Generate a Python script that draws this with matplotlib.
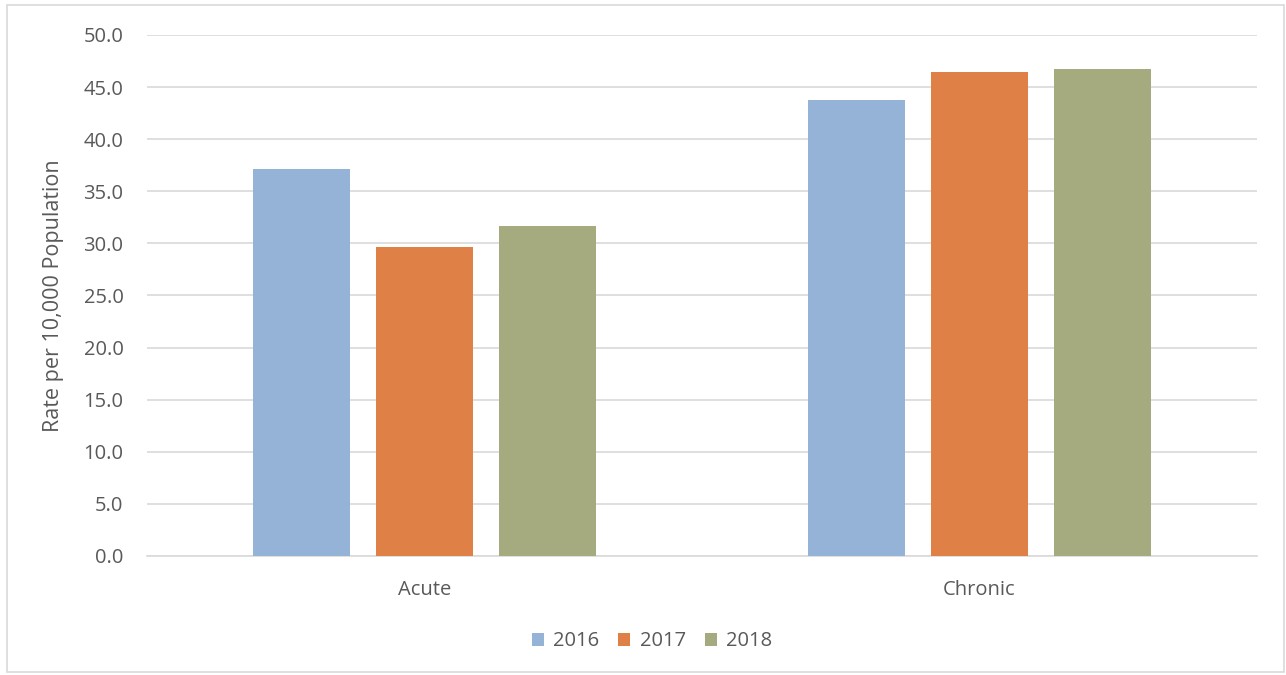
import matplotlib.pyplot as plt
import numpy as np
from matplotlib.patches import Rectangle

categories = ["Acute", "Chronic"]
years = ["2016", "2017", "2018"]
values_2016 = [37.1, 43.8]
values_2017 = [29.7, 46.4]
values_2018 = [31.7, 46.7]

colors = ["#95B3D7", "#DF8147", "#A5AA7F"]

plt.rcParams['font.family'] = ['Open Sans', 'DejaVu Sans']

fig = plt.figure(figsize=(12.86, 6.75), dpi=100)
ax = fig.add_axes([0.1143, 0.1763, 0.8632, 0.7719])

x = np.arange(len(categories))
width = 0.175
step = 0.222
series = [values_2016, values_2017, values_2018]
for i, vals in enumerate(series):
    ax.bar(x + (i - 1) * step, vals, width, color=colors[i], label=years[i], zorder=3)

ax.set_xlim(-0.5, 1.5)
ax.set_ylim(0, 50)
ax.set_yticks(np.arange(0, 50.1, 5))
ax.set_yticklabels([f"{v:.1f}" for v in np.arange(0, 50.1, 5)])
ax.set_xticks(x)
ax.set_xticklabels(categories)
ax.tick_params(axis='both', length=0, labelsize=14.5, colors='#595959')
ax.tick_params(axis='y', pad=17)
ax.tick_params(axis='x', pad=17)
ax.grid(axis='y', color='#D9D9D9', linewidth=1.2, zorder=0)
for s in ['top', 'right', 'left']:
    ax.spines[s].set_visible(False)
ax.spines['bottom'].set_color('#D9D9D9')
ax.spines['bottom'].set_linewidth(1.2)

ax.set_ylabel("Rate per 10,000 Population", fontsize=15.5, color='#595959', labelpad=14)

fig.legend(loc='center', bbox_to_anchor=(0.507, 0.05), ncol=3, frameon=False,
           fontsize=14.5, labelcolor='#595959', handlelength=0.6, handleheight=0.6,
           handletextpad=0.45, columnspacing=0.95)

fig.patches.append(Rectangle((0.0055, 0.004), 0.993, 0.989, transform=fig.transFigure,
                             fill=False, edgecolor='#D9D9D9', linewidth=1.2))

fig.savefig("out.png", dpi=100)
